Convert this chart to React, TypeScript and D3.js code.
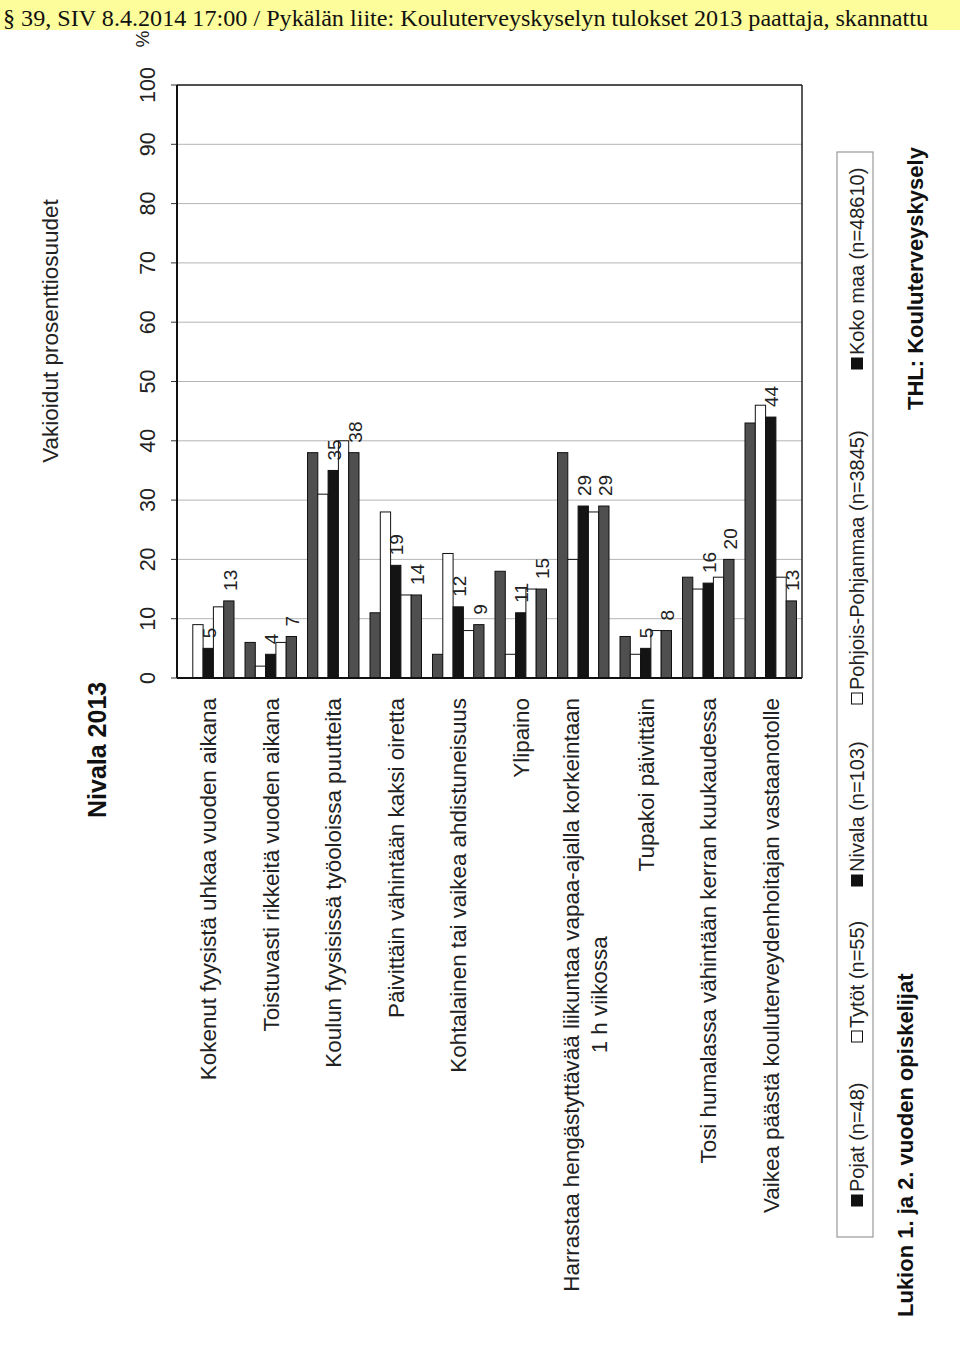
import React from "react";
import * as d3 from "d3";

const categories: string[][] = [
  ["Kokenut fyysistä uhkaa vuoden aikana"],
  ["Toistuvasti rikkeitä vuoden aikana"],
  ["Koulun fyysisissä työoloissa puutteita"],
  ["Päivittäin vähintään kaksi oiretta"],
  ["Kohtalainen tai vaikea ahdistuneisuus"],
  ["Ylipaino"],
  ["Harrastaa hengästyttävää liikuntaa vapaa-ajalla korkeintaan", "1 h viikossa"],
  ["Tupakoi päivittäin"],
  ["Tosi humalassa vähintään kerran kuukaudessa"],
  ["Vaikea päästä kouluterveydenhoitajan vastaanotolle"],
];

const seriesNames = [
  "Pojat (n=48)",
  "Tytöt (n=55)",
  "Nivala (n=103)",
  "Pohjois-Pohjanmaa (n=3845)",
  "Koko maa (n=48610)",
];

const pojat = [0, 6, 38, 11, 4, 18, 38, 7, 17, 43];
const tytot = [9, 2, 31, 28, 21, 4, 20, 4, 15, 46];
const nivala = [5, 4, 35, 19, 12, 11, 29, 5, 16, 44];
const pohjoisPohjanmaa = [12, 6, 40, 14, 8, 15, 28, 8, 17, 17];
const kokoMaa = [13, 7, 38, 14, 9, 15, 29, 8, 20, 13];

const valueTicks = [0, 10, 20, 30, 40, 50, 60, 70, 80, 90, 100];

const seriesValues = [pojat, tytot, nivala, pohjoisPohjanmaa, kokoMaa];
const seriesFill = ["#4f4f4f", "#ffffff", "#141414", "#ffffff", "#4f4f4f"];
const labelledSeries = [2, 4];

const FONT = "'Liberation Sans', Arial, sans-serif";

function measure(text: string, font: string): number {
  try {
    const c = document.createElement("canvas");
    const ctx = c.getContext("2d");
    if (ctx) {
      ctx.font = font;
      return ctx.measureText(text).width;
    }
  } catch (e) {}
  return text.length * 11;
}

export default function App() {
  const left = 177;
  const right = 802;
  const top = 85;
  const bottom = 678;

  const x = d3.scaleBand<number>().domain(d3.range(categories.length)).range([left, right]);
  const inner = d3
    .scaleBand<number>()
    .domain(d3.range(seriesNames.length))
    .range([5.5, x.bandwidth() - 5.5]);
  const y = d3.scaleLinear().domain([0, 100]).range([bottom, top]);

  const catFont = 22.4;
  const legendStarts = [1207, 1043, 887, 705, 370];

  return (
    <div style={{ position: "absolute", left: 0, top: 0, width: 960, height: 1356, background: "#fff" }}>
      <svg width={960} height={1356} style={{ display: "block" }}>
        <rect x={0} y={0} width={960} height={1356} fill="#ffffff" />
        {/* header band */}
        <rect x={0} y={0} width={960} height={30} fill="#fdfd9c" />
        <text
          x={3}
          y={25.5}
          fontFamily="'Liberation Serif', 'Times New Roman', serif"
          fontSize={24}
          textLength={925}
          lengthAdjust="spacingAndGlyphs"
          fill="#111"
        >
          § 39, SIV 8.4.2014 17:00 / Pykälän liite: Kouluterveyskyselyn tulokset 2013 paattaja, skannattu
        </text>

        {/* gridlines */}
        {valueTicks.map((t) => (
          <line key={"g" + t} x1={left} x2={right} y1={y(t)} y2={y(t)} stroke="#b4b4b4" strokeWidth={1} />
        ))}
        {/* ticks */}
        {valueTicks.map((t) => (
          <line key={"t" + t} x1={left - 6} x2={left} y1={y(t)} y2={y(t)} stroke="#333" strokeWidth={1} />
        ))}
        {/* tick labels */}
        {valueTicks.map((t) => (
          <text
            key={"l" + t}
            transform={`translate(${147},${y(t)}) rotate(-90)`}
            textAnchor="middle"
            dy="0.35em"
            fontFamily={FONT}
            fontSize={21.5}
            fill="#222"
          >
            {t}
          </text>
        ))}
        <text
          transform={`translate(${142},${39}) rotate(-90)`}
          textAnchor="middle"
          dy="0.35em"
          fontFamily={FONT}
          fontSize={19}
          fill="#222"
        >
          %
        </text>

        {/* bars */}
        {categories.map((_, ci) =>
          seriesValues.map((vals, si) => {
            const v = vals[ci];
            if (!v) return null;
            const bx = (x(ci) as number) + (inner(si) as number);
            return (
              <rect
                key={`b${ci}-${si}`}
                x={bx}
                y={y(v)}
                width={inner.bandwidth()}
                height={y(0) - y(v)}
                fill={seriesFill[si]}
                stroke="#111"
                strokeWidth={1}
              />
            );
          })
        )}

        {/* plot frame */}
        <line x1={left} x2={right} y1={top} y2={top} stroke="#222" strokeWidth={1.5} />
        <line x1={right} x2={right} y1={top} y2={bottom} stroke="#222" strokeWidth={1.5} />
        <line x1={left} x2={left} y1={top} y2={bottom} stroke="#111" strokeWidth={2} />
        <line x1={left} x2={right} y1={bottom} y2={bottom} stroke="#111" strokeWidth={2} />

        {/* data labels */}
        {categories.map((_, ci) =>
          labelledSeries.map((si) => {
            const v = seriesValues[si][ci];
            const cx = (x(ci) as number) + (inner(si) as number) + inner.bandwidth() / 2 + 1;
            return (
              <text
                key={`d${ci}-${si}`}
                transform={`translate(${cx},${y(v) - 10}) rotate(-90)`}
                textAnchor="start"
                dy="0.35em"
                fontFamily={FONT}
                fontSize={19}
                fill="#222"
              >
                {v}
              </text>
            );
          })
        )}

        {/* category labels */}
        {categories.map((lines, ci) => {
          const cx = (x(ci) as number) + x.bandwidth() / 2;
          if (lines.length === 1) {
            return (
              <text
                key={"c" + ci}
                transform={`translate(${cx},${698}) rotate(-90)`}
                textAnchor="end"
                dy="0.35em"
                fontFamily={FONT}
                fontSize={catFont}
                fill="#222"
              >
                {lines[0]}
              </text>
            );
          }
          const w = measure(lines[0], `${catFont}px 'Liberation Sans'`);
          const mid = 698 + w / 2;
          return (
            <g key={"c" + ci}>
              {lines.map((ln, li) => (
                <text
                  key={li}
                  transform={`translate(${cx - 12 + li * 28},${mid}) rotate(-90)`}
                  textAnchor="middle"
                  dy="0.35em"
                  fontFamily={FONT}
                  fontSize={catFont}
                  fill="#222"
                >
                  {ln}
                </text>
              ))}
            </g>
          );
        })}

        {/* axis title & chart title */}
        <text
          transform={`translate(${50},${331}) rotate(-90)`}
          textAnchor="middle"
          dy="0.35em"
          fontFamily={FONT}
          fontSize={22.5}
          fill="#222"
        >
          Vakioidut prosenttiosuudet
        </text>
        <text
          transform={`translate(${97},${818}) rotate(-90)`}
          textAnchor="start"
          dy="0.35em"
          fontFamily={FONT}
          fontSize={25}
          fontWeight="bold"
          fill="#111"
        >
          Nivala 2013
        </text>

        {/* legend */}
        <rect x={837} y={152} width={36} height={1085} fill="none" stroke="#999" strokeWidth={1.2} />
        {seriesNames.map((name, si) => (
          <g key={"lg" + si} transform={`translate(${857},${legendStarts[si]}) rotate(-90)`}>
            <rect x={1} y={-5.5} width={11} height={11} fill={si === 1 || si === 3 ? "#fff" : "#111"} stroke="#111" strokeWidth={1} />
            <text x={15} dy="0.35em" fontFamily={FONT} fontSize={20} fill="#222">
              {name}
            </text>
          </g>
        ))}

        {/* footer titles */}
        <text
          transform={`translate(${905},${1317}) rotate(-90)`}
          textAnchor="start"
          dy="0.35em"
          fontFamily={FONT}
          fontSize={22}
          fontWeight="bold"
          fill="#111"
        >
          Lukion 1. ja 2. vuoden opiskelijat
        </text>
        <text
          transform={`translate(${915},${410}) rotate(-90)`}
          textAnchor="start"
          dy="0.35em"
          fontFamily={FONT}
          fontSize={22}
          fontWeight="bold"
          fill="#111"
        >
          THL: Kouluterveyskysely
        </text>
      </svg>
    </div>
  );
}
